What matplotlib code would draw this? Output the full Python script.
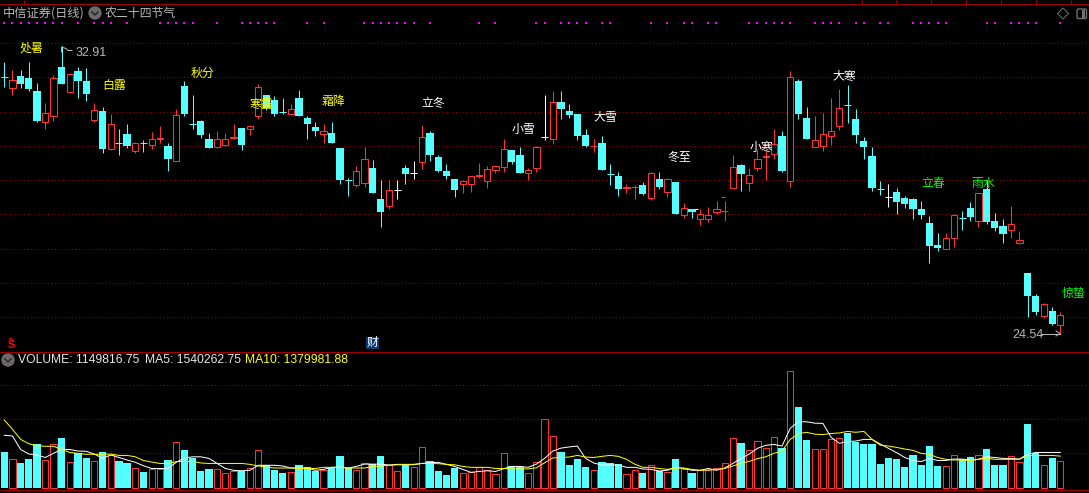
import matplotlib
matplotlib.use("Agg")
import matplotlib.pyplot as plt
from matplotlib.patches import Circle, FancyBboxPatch, Polygon, Rectangle

W, H = 1089, 493

# === prices ===
opens = [32.01, 31.69, 32.05, 31.99, 31.61, 30.71, 30.89, 32.31, 31.59, 32.19,
         31.90, 30.77, 31.02, 29.92, 30.11, 30.35, 29.84, 30.09, 30.04, 30.19,
         30.00, 29.57, 31.75, 30.65, 30.73, 30.21, 29.98, 30.04, 30.22, 30.53,
         30.49, 30.89, 31.49, 31.35, 30.99, 30.94, 31.40, 30.82, 30.56, 30.36,
         30.38, 29.94, 29.02, 28.86, 28.92, 29.36, 28.45, 28.25, 28.72, 29.36,
         29.22, 29.52, 30.38, 29.68, 29.27, 29.04, 28.90, 28.90, 29.11, 28.99,
         29.31, 29.40, 29.89, 29.74, 29.20, 29.37, 30.27, 30.19, 31.29, 31.02,
         30.94, 30.32, 29.98, 30.09, 29.20, 29.13, 28.78, 28.79, 28.86, 28.48,
         29.04, 28.67, 28.95, 27.99, 28.15, 27.88, 27.88, 28.08, 28.09, 28.78,
         29.45, 28.93, 29.37, 29.69, 29.78, 30.29, 28.99, 31.90, 30.82, 29.98,
         30.01, 30.30, 30.57, 31.21, 30.79, 30.15, 29.71, 28.76, 28.50, 28.66,
         28.48, 28.45, 28.16, 27.75, 27.11, 27.00, 27.32, 27.90, 28.19, 27.81,
         28.75, 27.81, 27.67, 27.55, 27.18, 26.29, 25.62, 25.04, 25.18, 24.78]
highs = [32.45, 32.22, 32.22, 32.45, 31.83, 31.26, 32.08, 32.91, 32.10, 32.31,
         32.27, 31.26, 31.14, 30.94, 30.50, 30.64, 30.13, 30.18, 30.41, 30.59,
         30.09, 31.08, 31.90, 31.49, 30.76, 30.38, 30.44, 30.38, 30.64, 30.53,
         30.58, 31.81, 31.49, 31.46, 31.40, 31.23, 31.64, 30.88, 30.70, 30.64,
         30.70, 29.94, 29.07, 29.42, 29.98, 29.59, 29.01, 29.01, 29.01, 29.45,
         29.56, 30.62, 30.44, 29.74, 29.48, 29.04, 29.01, 29.12, 29.51, 29.42,
         29.41, 30.21, 29.89, 29.97, 29.36, 30.00, 31.49, 31.61, 31.61, 31.23,
         30.94, 30.50, 30.21, 30.29, 29.48, 29.24, 28.89, 28.86, 28.95, 29.24,
         29.24, 29.07, 28.95, 28.34, 28.15, 28.15, 28.22, 28.40, 28.39, 29.74,
         29.48, 29.36, 29.91, 29.89, 30.50, 30.44, 32.19, 31.96, 31.14, 30.88,
         30.97, 31.40, 31.67, 31.78, 31.08, 30.27, 29.97, 28.98, 28.89, 28.78,
         28.54, 28.48, 28.40, 27.96, 27.46, 27.46, 28.02, 28.10, 28.37, 28.63,
         29.01, 28.05, 27.87, 28.25, 27.52, 26.29, 25.68, 25.42, 25.30, 25.16]
lows = [31.73, 31.49, 31.70, 31.61, 30.70, 30.50, 30.74, 31.81, 31.59, 31.40,
        31.32, 30.70, 29.80, 29.89, 29.74, 29.94, 29.80, 29.83, 29.91, 30.09,
        29.27, 29.57, 30.88, 30.50, 30.24, 29.94, 29.94, 30.00, 30.21, 29.89,
        30.32, 30.79, 31.05, 30.88, 30.94, 30.91, 30.88, 30.21, 30.29, 30.09,
        30.09, 28.89, 28.54, 28.81, 28.81, 28.63, 27.64, 28.16, 28.45, 28.89,
        29.04, 29.33, 29.56, 29.24, 29.04, 28.51, 28.63, 28.66, 29.07, 28.78,
        29.21, 29.24, 29.48, 29.21, 29.00, 29.24, 30.18, 30.06, 30.79, 30.82,
        30.18, 29.97, 29.83, 29.30, 28.86, 28.54, 28.63, 28.45, 28.57, 28.43,
        28.75, 28.51, 28.02, 27.90, 27.90, 27.70, 27.78, 28.02, 27.81, 28.78,
        28.69, 28.69, 29.27, 29.01, 29.62, 29.24, 28.81, 30.79, 30.21, 29.98,
        29.85, 30.03, 30.47, 30.67, 30.09, 29.62, 28.69, 28.57, 28.21, 28.02,
        28.19, 27.87, 27.87, 26.59, 26.94, 27.00, 27.05, 27.55, 27.81, 27.64,
        27.72, 27.52, 27.17, 27.32, 27.14, 25.01, 25.07, 24.98, 24.78, 24.54]
closes = [32.00, 31.92, 31.81, 31.67, 30.74, 30.96, 31.98, 31.81, 32.10, 31.90,
          31.52, 31.04, 29.91, 30.63, 30.10, 30.00, 30.08, 30.08, 30.20, 30.22,
          29.62, 30.90, 30.93, 30.64, 30.32, 29.94, 30.20, 30.20, 30.25, 30.03,
          30.58, 31.72, 31.10, 30.94, 30.98, 31.07, 30.88, 30.64, 30.44, 30.43,
          30.09, 29.01, 29.01, 29.26, 29.62, 28.63, 28.08, 28.72, 28.72, 29.19,
          29.22, 30.26, 29.74, 29.27, 29.13, 28.72, 28.97, 29.12, 29.14, 29.32,
          29.41, 29.91, 29.54, 29.21, 29.29, 29.96, 30.27, 31.28, 31.08, 30.91,
          30.29, 30.00, 29.99, 29.30, 29.19, 28.75, 28.81, 28.80, 28.60, 29.20,
          28.81, 29.03, 28.02, 28.18, 28.08, 28.01, 27.98, 28.15, 28.10, 29.38,
          29.19, 29.15, 29.61, 29.72, 30.05, 29.27, 32.01, 30.94, 30.21, 30.17,
          30.34, 30.43, 31.10, 31.20, 30.32, 29.97, 28.78, 28.75, 28.50, 28.37,
          28.31, 28.16, 27.99, 27.08, 27.02, 27.31, 27.98, 27.89, 27.93, 28.63,
          27.78, 27.61, 27.43, 27.73, 27.26, 25.62, 25.16, 25.38, 24.81, 25.06]

# === volume (millions) ===
volumes = [1.56, 1.24, 1.08, 1.25, 1.91, 1.19, 1.89, 2.17, 1.11, 1.50,
           1.30, 1.15, 1.56, 1.41, 1.16, 1.08, 0.84, 0.68, 0.80, 0.80,
           1.21, 1.98, 1.65, 1.30, 0.73, 0.82, 0.80, 0.63, 0.71, 0.73,
           0.84, 1.63, 0.98, 0.77, 0.64, 0.67, 0.99, 0.89, 0.71, 0.77,
           0.84, 1.38, 0.84, 0.77, 1.06, 1.03, 1.38, 0.98, 0.71, 0.99,
           0.89, 1.76, 1.16, 0.73, 0.55, 0.86, 0.63, 0.67, 0.89, 0.77,
           0.58, 1.50, 0.93, 0.89, 0.63, 1.11, 2.98, 2.24, 1.56, 0.99,
           1.25, 0.90, 0.76, 1.12, 1.08, 1.03, 0.58, 0.76, 0.64, 0.98,
           0.71, 0.67, 1.25, 0.80, 0.64, 0.76, 0.76, 0.84, 1.06, 2.15,
           1.95, 1.63, 2.02, 1.72, 2.20, 1.73, 5.08, 3.52, 2.08, 1.67,
           1.67, 2.11, 2.15, 2.39, 1.99, 1.91, 1.91, 1.03, 1.30, 1.25,
           0.90, 1.43, 0.99, 1.82, 0.95, 0.93, 1.41, 1.24, 1.34, 1.41,
           1.69, 0.99, 0.99, 1.37, 1.11, 2.78, 1.51, 0.98, 1.30, 1.15]
ma5 = [2.29, 2.26, 1.67, 1.47, 1.43, 1.32, 1.50, 1.67, 1.67, 1.60,
       1.59, 1.47, 1.28, 1.43, 1.32, 1.21, 1.11, 0.96, 0.84, 0.84,
       0.84, 1.11, 1.30, 1.35, 1.35, 1.28, 1.06, 0.84, 0.76, 0.74,
       0.76, 0.98, 0.98, 0.98, 0.95, 0.86, 0.86, 0.86, 0.76, 0.80,
       0.89, 0.90, 0.86, 0.93, 1.03, 1.03, 1.03, 0.99, 1.02, 1.02,
       1.02, 1.06, 1.09, 1.11, 1.02, 0.93, 0.80, 0.67, 0.71, 0.74,
       0.71, 0.83, 0.93, 0.93, 0.89, 1.03, 1.28, 1.60, 1.73, 1.78,
       1.82, 1.28, 1.08, 0.99, 0.99, 0.99, 0.89, 0.89, 0.82, 0.80,
       0.73, 0.76, 0.89, 0.84, 0.76, 0.76, 0.84, 0.76, 0.86, 1.06,
       1.28, 1.47, 1.72, 1.85, 1.89, 1.82, 2.59, 2.88, 2.88, 2.82,
       2.81, 2.20, 1.94, 2.01, 2.04, 2.11, 2.11, 1.91, 1.72, 1.53,
       1.32, 1.19, 1.14, 1.28, 1.19, 1.19, 1.25, 1.25, 1.21, 1.24,
       1.35, 1.32, 1.28, 1.28, 1.25, 1.46, 1.54, 1.54, 1.54, 1.54]
ma10 = [2.96, 2.55, 2.11, 1.92, 1.83, 1.81, 1.81, 1.67, 1.54, 1.50,
        1.46, 1.46, 1.46, 1.47, 1.41, 1.41, 1.35, 1.19, 1.12, 1.06,
        1.06, 1.14, 1.15, 1.15, 1.08, 1.06, 1.06, 1.06, 1.06, 1.06,
        1.02, 0.95, 0.90, 0.86, 0.86, 0.86, 0.84, 0.83, 0.84, 0.89,
        0.89, 0.89, 0.86, 0.86, 0.86, 0.92, 0.95, 0.98, 1.00, 1.00,
        1.00, 1.06, 1.06, 1.05, 1.02, 1.00, 0.93, 0.89, 0.89, 0.89,
        0.84, 0.84, 0.82, 0.82, 0.82, 0.87, 1.09, 1.30, 1.32, 1.34,
        1.41, 1.34, 1.32, 1.37, 1.41, 1.37, 1.24, 1.03, 0.89, 0.89,
        0.84, 0.80, 0.86, 0.86, 0.80, 0.76, 0.77, 0.80, 0.84, 0.95,
        1.06, 1.15, 1.27, 1.35, 1.50, 1.60, 2.11, 2.36, 2.42, 2.34,
        2.32, 2.37, 2.39, 2.46, 2.42, 2.46, 2.11, 1.86, 1.82, 1.76,
        1.69, 1.63, 1.50, 1.46, 1.32, 1.24, 1.21, 1.21, 1.19, 1.24,
        1.28, 1.24, 1.24, 1.24, 1.24, 1.41, 1.41, 1.41, 1.41, 1.38]

# === markers and labels ===
signal_days = [0, 1, 2, 3, 4, 5, 6, 7, 9, 11, 12, 13, 15, 19, 20, 21, 22, 23, 26, 29,
               30, 31, 32, 33, 37, 39, 44, 45, 46, 47, 48, 49, 50, 52, 58, 60, 65, 66,
               68, 69, 70, 71, 73, 74, 79, 81, 83, 84, 86, 87, 91, 92, 93, 94, 95, 96,
               99, 100, 101, 102, 104, 105, 107, 108, 111, 112, 113, 114, 115, 120,
               121, 123, 124, 125, 126, 129]
white_days = [48, 50, 66, 108]
cyan_volume_days = [108]
price_levels = [33, 32, 31, 30, 29, 28, 27, 26, 25]
volume_levels = [1.5, 3.0, 4.5]
high_label = "32.91"
low_label = "24.54"
volume_legend = ["VOLUME: 1149816.75", "MA5: 1540262.75", "MA10: 1379981.88"]
yellow_terms = ["处暑", "白露", "秋分", "寒露", "霜降"]
white_terms = ["立冬", "小雪", "大雪", "冬至", "小寒", "大寒"]
green_terms = ["立春", "雨水", "惊蛰"]

RED = "#ff3232"
CYAN = "#54ffff"
LINE = "#a00000"
GRID = "#a00000"
GREY = "#b8b8b8"
CJK = ["Noto Sans CJK SC", "DejaVu Sans"]
LATIN = ["Liberation Sans", "DejaVu Sans"]
PX = 0.72

fig = plt.figure(figsize=(W / 100, H / 100), dpi=100, facecolor="black")


def pane(top, bottom):
    ax = fig.add_axes([0, 1 - bottom / H, 1, (bottom - top) / H], facecolor="black")
    ax.set_axis_off()
    ax.set_xlim(-0.525, 132.5)
    return ax


ax = pane(3.5, 351.5)
ax.set_ylim(24.0, 34.16)
ax_vol = pane(351.5, 489.7)
ax_vol.set_ylim(-0.087, 5.95)

dots = (0, (1, 2.4))
for a, levels in ((ax, price_levels), (ax_vol, volume_levels)):
    a.hlines(levels, -0.5, 132.15, color=GRID, lw=PX, linestyles=dots, zorder=1, snap=True)

# === candles ===
for i, (o, h, l, c) in enumerate(zip(opens, highs, lows, closes)):
    if i in white_days:
        col = "white"
    elif c > o:
        col = RED
    else:
        col = CYAN
    ax.vlines(i, l, h, color=col, lw=PX, zorder=2, snap=True)
    if i in white_days or abs(c - o) < 0.02:
        ax.hlines(c, i - 0.42, i + 0.42, color=col, lw=PX, zorder=3, snap=True)
    elif c > o:
        ax.bar(i, c - o, 0.76, o, facecolor="black", edgecolor=RED, lw=PX, zorder=3)
    else:
        ax.bar(i, o - c, 0.88, c, facecolor=CYAN, edgecolor=CYAN, lw=0, zorder=3)

# stray ticks the terminal leaves on the chart
ax.hlines(28.51, 87.55, 88.0, color=RED, lw=PX, zorder=3, snap=True)
ax.hlines(28.15, 84.3, 84.75, color="#ffff00", lw=PX, zorder=4, snap=True)

# === volume ===
for i, (v, o, c) in enumerate(zip(volumes, opens, closes)):
    if c >= o and i not in cyan_volume_days:
        ax_vol.bar(i, v, 0.76, facecolor="black", edgecolor=RED, lw=PX, zorder=2)
    else:
        ax_vol.bar(i, v, 0.88, facecolor=CYAN, edgecolor=CYAN, lw=0, zorder=2)
days = list(range(len(volumes)))
ax_vol.plot(days, ma5, color="white", lw=PX, zorder=3)
ax_vol.plot(days, ma10, color="#ffff00", lw=PX, zorder=4)

# === overlay in pixels: frame, icons, text ===
ui = fig.add_axes([0, 0, 1, 1], facecolor="none")
ui.set_axis_off()
ui.set_xlim(0, W)
ui.set_ylim(H, 0)

ui.hlines([3.5, 351.5, 489.7], 0, W, color=LINE, lw=PX, zorder=1, snap=True)
ui.vlines([23.5, 861.5, 895.5, 930.5, 965.5, 1000.5, 1035.5, 1070.5], 0, 3.5, color=LINE, lw=PX, zorder=1, snap=True)
ui.scatter([4.3 + 8.186 * d for d in signal_days], [22.7] * len(signal_days),
           s=4.2, marker="s", color="#ff00ff", lw=0, zorder=2)


def label(x, y, s, color, size=8.6, family=CJK, ha="center", **kw):
    ui.text(x, y, s, color=color, fontsize=size, family=family, ha=ha, va="center", zorder=6, **kw)


label(3, 13, "中信证券(日线)", GREY, size=8.8, ha="left")
label(105, 13, "农二十四节气", GREY, size=8.6, ha="left")
ui.add_patch(Circle((95, 13), 6, color="#6a6a6a", zorder=3))
ui.plot([92, 95, 98], [12, 15, 12], color="#222222", lw=1, zorder=4)

# top-right buttons
ui.add_patch(Polygon([(1063, 8), (1068.5, 13.5), (1063, 19), (1057.5, 13.5)], fill=False, ec="#707070", lw=PX))
ui.add_patch(FancyBboxPatch((1077, 9), 9.5, 9.5, boxstyle="round,pad=0,rounding_size=1.5", fill=False, ec="#707070", lw=PX * 1.4))
ui.add_patch(Rectangle((1082, 10), 3, 7.5, color="#707070", lw=0))

# high / low marks
ui.plot([61.5, 61.5, 66, 68, 72], [52, 47, 48.5, 50.5, 50.5], color=GREY, lw=PX, zorder=4)
label(76, 53, high_label, GREY, size=9, family=LATIN, ha="left")
ui.plot([1041, 1060], [333.5, 333.5], color=GREY, lw=PX, zorder=4)
ui.plot([1056, 1060, 1056], [331, 333.5, 336], color=GREY, lw=PX, zorder=4)
label(1012, 335, low_label, GREY, size=9, family=LATIN, ha="left")

# solar terms
for s, (x, y) in zip(yellow_terms, [(31, 48), (114, 85), (203, 73), (261, 104), (334, 102)]):
    label(x, y, s, "#ffff00")
for s, (x, y) in zip(white_terms, [(433, 103), (523, 129), (605, 118), (679, 157), (761, 147), (844, 76)]):
    label(x, y, s, "white")
for s, (x, y) in zip(green_terms, [(933, 183), (983, 183), (1074, 293)]):
    label(x, y, s, "#00ff00")

# bottom flags
ui.text(11, 344.5, "S", color="#ff0000", fontsize=8, fontweight="bold", family=LATIN, ha="center", va="center", zorder=6)
ui.plot([9, 11, 13], [340, 338, 340], color="#ff0000", lw=PX, zorder=6)
ui.add_patch(Rectangle((366, 337), 13, 12, color="#0b3a6e", lw=0, zorder=5))
label(372.5, 342.8, "财", "white", size=8.5)

# volume legend
ui.add_patch(Circle((8, 360), 6, color="#6a6a6a", zorder=3))
ui.plot([5, 8, 11], [359, 362, 359], color="#222222", lw=1, zorder=4)
label(18, 360, volume_legend[0], "#e6e6e6", size=8.7, family=LATIN, ha="left")
label(145, 360, volume_legend[1], "#e6e6e6", size=8.7, family=LATIN, ha="left")
label(245, 360, volume_legend[2], "#ffff00", size=8.7, family=LATIN, ha="left")

fig.savefig("out.png", dpi=100, facecolor="black")
